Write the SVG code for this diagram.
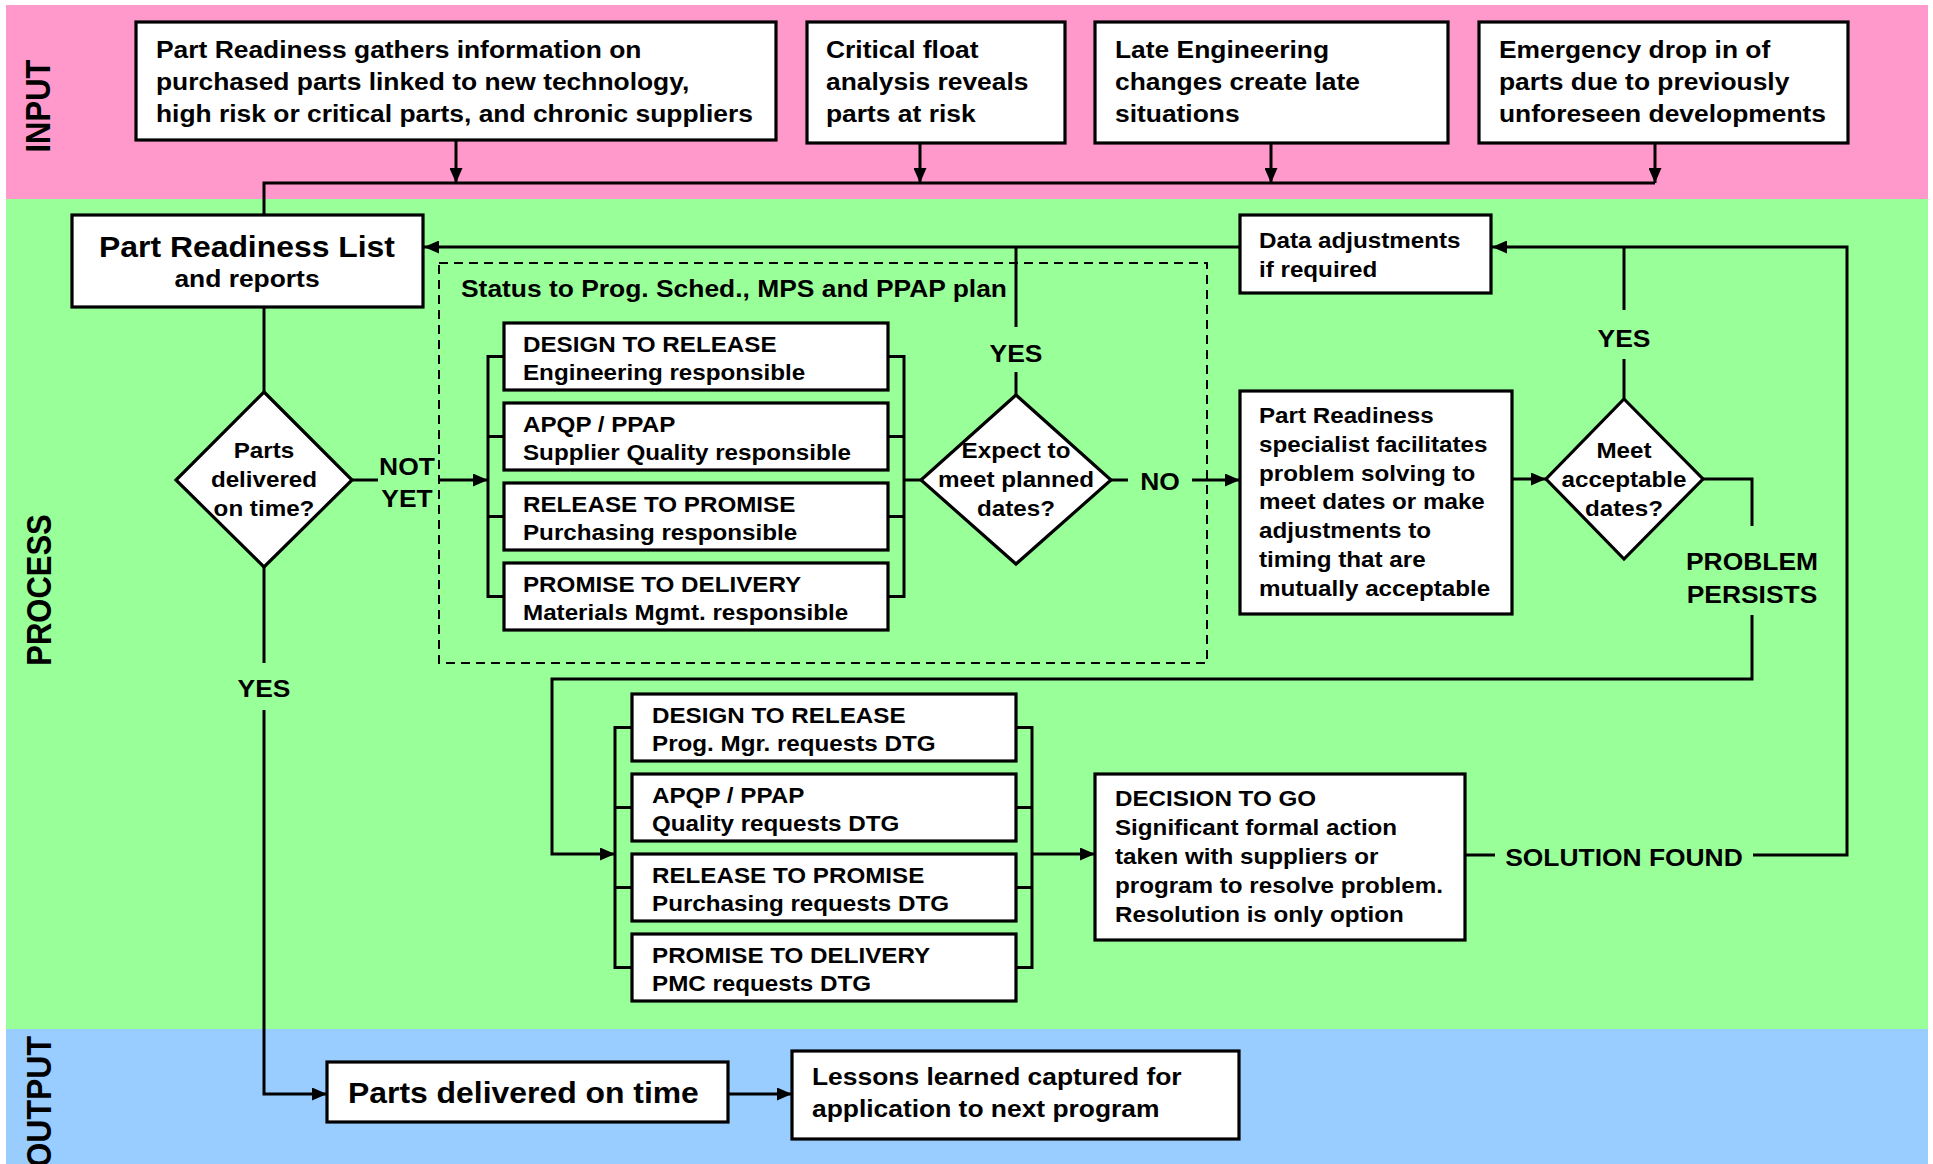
<svg xmlns="http://www.w3.org/2000/svg" width="1933" height="1164" viewBox="0 0 1933 1164">
<defs>
<marker id="ah" markerWidth="15" markerHeight="13" refX="15" refY="6.5" orient="auto" markerUnits="userSpaceOnUse"><path d="M0,0 L15,6.5 L0,13 z" fill="#000"/></marker>
<style>
text { font-family: "Liberation Sans", Arial, sans-serif; font-weight: bold; fill: #000; }
.sl { transform-box: fill-box; transform-origin: 0% 50%; transform: scaleX(1.1); }
.sc { text-anchor: middle; transform-box: fill-box; transform-origin: 50% 50%; transform: scaleX(1.1); }
.f24 { font-size: 24px; }
.f22 { font-size: 22px; }
.f29 { font-size: 29px; }
.lane { font-size: 31px; text-anchor: middle; }
.box { fill: #fff; stroke: #000; stroke-width: 3.2; }
.con { fill: none; stroke: #000; stroke-width: 3; }
</style>
</defs>
<rect width="1933" height="1164" fill="#fff"/>
<g id="lanes">
<rect x="6" y="5" width="1922" height="194" fill="#FF99CC"/>
<rect x="6" y="199" width="1922" height="830" fill="#99FF99"/>
<rect x="6" y="1029" width="1922" height="135" fill="#99CCFF"/>
<text class="lane" transform="translate(50,106) rotate(-90) scale(1,1.12)">INPUT</text>
<text class="lane" transform="translate(51,590) rotate(-90) scale(1,1.12)">PROCESS</text>
<text class="lane" style="text-anchor:end;font-size:32px" transform="translate(51,1036) rotate(-90) scale(1,1.12)">OUTPUT</text>
</g>
<g id="status-group">
<rect x="439" y="263" width="768" height="400" fill="none" stroke="#000" stroke-width="2" stroke-dasharray="9 6"/>
<text class="sl f24" x="461" y="297">Status to Prog. Sched., MPS and PPAP plan</text>
</g>
<g id="connectors" class="con">
<path d="M456,140 V183" marker-end="url(#ah)"/>
<path d="M920,143 V183" marker-end="url(#ah)"/>
<path d="M1271,143 V183" marker-end="url(#ah)"/>
<path d="M1655,143 V183" marker-end="url(#ah)"/>
<path d="M264,215 V183 H1655"/>
<path d="M1240,247 H424" marker-end="url(#ah)"/>
<path d="M1016,395 V372"/>
<path d="M1016,327 V247"/>
<path d="M1753,855 H1847 V247 H1492" marker-end="url(#ah)"/>
<path d="M1465,855 H1495"/>
<path d="M1624,399 V359"/>
<path d="M1624,310 V247"/>
<path d="M264,307 V392"/>
<path d="M264,567 V663"/>
<path d="M264,710 V1094 H327" marker-end="url(#ah)"/>
<path d="M351,480 H378"/>
<path d="M440,480 H488" marker-end="url(#ah)"/>
<path d="M504,356.5 H488 V596.5 H504 M488,436.5 H504 M488,516.5 H504"/>
<path d="M888,356.5 H904 V596.5 H888 M904,436.5 H888 M904,516.5 H888"/>
<path d="M904,480 H921"/>
<path d="M1111,480 H1128"/>
<path d="M1192,480 H1240" marker-end="url(#ah)"/>
<path d="M1512,479 H1546" marker-end="url(#ah)"/>
<path d="M1703,479 H1752 V526"/>
<path d="M1752,615 V679 H552 V854 H615" marker-end="url(#ah)"/>
<path d="M632,727.5 H615 V967.5 H632 M615,807.5 H632 M615,887.5 H632"/>
<path d="M1016,727.5 H1032 V967.5 H1016 M1032,807.5 H1016 M1032,887.5 H1016"/>
<path d="M1032,854 H1095" marker-end="url(#ah)"/>
<path d="M728,1094 H792" marker-end="url(#ah)"/>
</g>
<g id="labels">
<text class="sc f24" x="1016" y="362">YES</text>
<text class="sc f24" x="1624" y="347">YES</text>
<text class="sc f24" x="264" y="697">YES</text>
<text class="sc f24" x="1160" y="490">NO</text>
<text class="sc f24" x="407" y="475">NOT</text>
<text class="sc f24" x="407" y="507">YET</text>
<text class="sc f24" x="1752" y="570">PROBLEM</text>
<text class="sc f24" x="1752" y="603">PERSISTS</text>
<text class="sc f24" x="1624" y="866">SOLUTION FOUND</text>
</g>
<g id="in-part-readiness">
<rect class="box" x="136" y="22" width="640" height="118"/>
<text class="sl f24" x="156" y="58"><tspan x="156">Part Readiness gathers information on</tspan><tspan x="156" y="90">purchased parts linked to new technology,</tspan><tspan x="156" y="122">high risk or critical parts, and chronic suppliers</tspan></text>
</g>
<g id="in-critical-float">
<rect class="box" x="807" y="22" width="258" height="121"/>
<text class="sl f24" x="826" y="58"><tspan x="826">Critical float</tspan><tspan x="826" y="90">analysis reveals</tspan><tspan x="826" y="122">parts at risk</tspan></text>
</g>
<g id="in-late-engineering">
<rect class="box" x="1095" y="22" width="353" height="121"/>
<text class="sl f24" x="1115" y="58"><tspan x="1115">Late Engineering</tspan><tspan x="1115" y="90">changes create late</tspan><tspan x="1115" y="122">situations</tspan></text>
</g>
<g id="in-emergency">
<rect class="box" x="1479" y="22" width="369" height="121"/>
<text class="sl f24" x="1499" y="58"><tspan x="1499">Emergency drop in of</tspan><tspan x="1499" y="90">parts due to previously</tspan><tspan x="1499" y="122">unforeseen developments</tspan></text>
</g>
<g id="part-readiness-list">
<rect class="box" x="72" y="215" width="351" height="92"/>
<text class="sc f29" x="247" y="257">Part Readiness List</text>
<text class="sc f24" x="247" y="287">and reports</text>
</g>
<g id="data-adjustments">
<rect class="box" x="1240" y="215" width="251" height="78"/>
<text class="sl f22" x="1259" y="248"><tspan x="1259">Data adjustments</tspan><tspan x="1259" y="277">if required</tspan></text>
</g>
<g id="dec-parts-delivered">
<path class="box" d="M264,392 L352,480 L264,567 L176,480 Z"/>
<text class="sc f22" x="264" y="458"><tspan x="264">Parts</tspan><tspan x="264" y="487">delivered</tspan><tspan x="264" y="516">on time?</tspan></text>
</g>
<g id="s-design-release">
<rect class="box" x="504" y="323" width="384" height="67"/>
<text class="sl f22" x="523" y="352"><tspan x="523">DESIGN TO RELEASE</tspan><tspan x="523" y="380">Engineering responsible</tspan></text>
</g>
<g id="s-apqp">
<rect class="box" x="504" y="403" width="384" height="67"/>
<text class="sl f22" x="523" y="432"><tspan x="523">APQP / PPAP</tspan><tspan x="523" y="460">Supplier Quality responsible</tspan></text>
</g>
<g id="s-release-promise">
<rect class="box" x="504" y="483" width="384" height="67"/>
<text class="sl f22" x="523" y="512"><tspan x="523">RELEASE TO PROMISE</tspan><tspan x="523" y="540">Purchasing responsible</tspan></text>
</g>
<g id="s-promise-delivery">
<rect class="box" x="504" y="563" width="384" height="67"/>
<text class="sl f22" x="523" y="592"><tspan x="523">PROMISE TO DELIVERY</tspan><tspan x="523" y="620">Materials Mgmt. responsible</tspan></text>
</g>
<g id="dec-expect">
<path class="box" d="M1016,395 L1111,480 L1016,564 L921,480 Z"/>
<text class="sc f22" x="1016" y="458"><tspan x="1016">Expect to</tspan><tspan x="1016" y="487">meet planned</tspan><tspan x="1016" y="516">dates?</tspan></text>
</g>
<g id="specialist">
<rect class="box" x="1240" y="391" width="272" height="223"/>
<text class="sl f22" x="1259" y="423"><tspan x="1259">Part Readiness</tspan><tspan x="1259" y="452">specialist facilitates</tspan><tspan x="1259" y="481">problem solving to</tspan><tspan x="1259" y="509">meet dates or make</tspan><tspan x="1259" y="538">adjustments to</tspan><tspan x="1259" y="567">timing that are</tspan><tspan x="1259" y="596">mutually acceptable</tspan></text>
</g>
<g id="dec-acceptable">
<path class="box" d="M1624,399 L1703,479 L1624,559 L1546,479 Z"/>
<text class="sc f22" x="1624" y="458"><tspan x="1624">Meet</tspan><tspan x="1624" y="487">acceptable</tspan><tspan x="1624" y="516">dates?</tspan></text>
</g>
<g id="d-design-release">
<rect class="box" x="632" y="694" width="384" height="67"/>
<text class="sl f22" x="652" y="723"><tspan x="652">DESIGN TO RELEASE</tspan><tspan x="652" y="751">Prog. Mgr. requests DTG</tspan></text>
</g>
<g id="d-apqp">
<rect class="box" x="632" y="774" width="384" height="67"/>
<text class="sl f22" x="652" y="803"><tspan x="652">APQP / PPAP</tspan><tspan x="652" y="831">Quality requests DTG</tspan></text>
</g>
<g id="d-release-promise">
<rect class="box" x="632" y="854" width="384" height="67"/>
<text class="sl f22" x="652" y="883"><tspan x="652">RELEASE TO PROMISE</tspan><tspan x="652" y="911">Purchasing requests DTG</tspan></text>
</g>
<g id="d-promise-delivery">
<rect class="box" x="632" y="934" width="384" height="67"/>
<text class="sl f22" x="652" y="963"><tspan x="652">PROMISE TO DELIVERY</tspan><tspan x="652" y="991">PMC requests DTG</tspan></text>
</g>
<g id="decision-to-go">
<rect class="box" x="1095" y="774" width="370" height="166"/>
<text class="sl f22" x="1115" y="806"><tspan x="1115">DECISION TO GO</tspan><tspan x="1115" y="835">Significant formal action</tspan><tspan x="1115" y="864">taken with suppliers or</tspan><tspan x="1115" y="893">program to resolve problem.</tspan><tspan x="1115" y="922">Resolution is only option</tspan></text>
</g>
<g id="out-parts-delivered">
<rect class="box" x="327" y="1062" width="401" height="60"/>
<text class="sl f29" x="348" y="1103">Parts delivered on time</text>
</g>
<g id="out-lessons">
<rect class="box" x="792" y="1051" width="447" height="88"/>
<text class="sl f24" x="812" y="1085"><tspan x="812">Lessons learned captured for</tspan><tspan x="812" y="1117">application to next program</tspan></text>
</g>
</svg>
